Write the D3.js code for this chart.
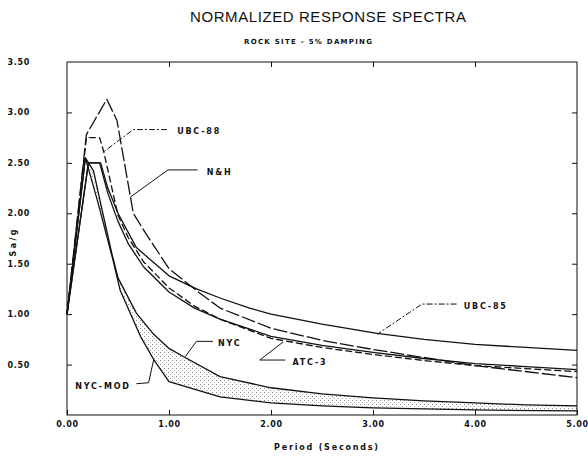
<!DOCTYPE html>
<html lang="en">
<head>
<meta charset="UTF-8">
<title>Normalized Response Spectra</title>
<style>
  body { margin: 0; background: #fff; }
  svg { display: block; }
  .tick text { font-family: "DejaVu Sans", sans-serif; font-weight: bold; font-size: 8px; letter-spacing: 0.7px; fill: #111; }
  .tick line { stroke: #111; }
  .lbl { font-family: "DejaVu Sans", sans-serif; font-weight: bold; font-size: 8px; letter-spacing: 1.8px; fill: #111; }
</style>
</head>
<body>
<div class="svg-target"></div>
<script src="https://d3js.org/d3.v7.min.js"></script>
<script>
  // values: period (s) and Sa/g
  const nhPeriod = [0, 0.19, 0.39, 0.49, 0.65, 0.76, 1.0, 1.3, 1.5, 2.0, 2.5, 3.0, 3.5, 4.0, 5.0];
  const nhSa = [1.0, 2.78, 3.13, 2.92, 2.0, 1.82, 1.45, 1.21, 1.06, 0.86, 0.74, 0.65, 0.57, 0.49, 0.37];

  const ubc88Period = [0, 0.19, 0.32, 0.36, 0.44, 0.5, 0.6, 0.75, 1.0, 1.25, 1.5, 2.0, 2.5, 3.0, 3.5, 4.0, 4.5, 5.0];
  const ubc88Sa = [1.0, 2.75, 2.75, 2.61, 2.25, 1.98, 1.76, 1.52, 1.26, 1.08, 0.95, 0.76, 0.67, 0.6, 0.54, 0.49, 0.46, 0.43];

  const atc3Period = [0, 0.21, 0.32, 0.4, 0.5, 0.6, 0.75, 1.0, 1.25, 1.5, 2.0, 2.5, 3.0, 3.5, 4.0, 4.5, 5.0];
  const atc3Sa = [1.0, 2.5, 2.5, 2.2, 1.92, 1.7, 1.47, 1.22, 1.06, 0.95, 0.78, 0.69, 0.62, 0.56, 0.51, 0.48, 0.45];

  const ubc85Period = [0, 0.21, 0.33, 0.4, 0.5, 0.68, 1.0, 1.27, 1.5, 1.79, 2.0, 2.5, 3.04, 3.5, 4.0, 4.5, 5.0];
  const ubc85Sa = [1.0, 2.5, 2.5, 2.25, 2.0, 1.66, 1.38, 1.25, 1.16, 1.06, 1.0, 0.9, 0.81, 0.75, 0.7, 0.67, 0.64];

  const nycPeriod = [0, 0.18, 0.26, 0.34, 0.44, 0.5, 0.68, 0.85, 1.0, 1.14, 1.5, 2.0, 2.5, 3.0, 3.5, 4.0, 4.5, 5.0];
  const nycSa = [1.0, 2.55, 2.42, 2.05, 1.6, 1.36, 1.01, 0.8, 0.66, 0.58, 0.38, 0.27, 0.21, 0.17, 0.14, 0.12, 0.1, 0.09];

  const nycModPeriod = [0, 0.18, 0.3, 0.45, 0.52, 0.72, 0.85, 1.0, 1.5, 2.0, 2.5, 3.0, 4.0, 5.0];
  const nycModSa = [1.0, 2.55, 2.12, 1.54, 1.24, 0.78, 0.55, 0.33, 0.18, 0.12, 0.09, 0.07, 0.05, 0.04];

  const xTicks = [0, 1, 2, 3, 4, 5];
  const yTicks = [0.5, 1, 1.5, 2, 2.5, 3, 3.5];

  const zip = (ts, vs) => ts.map((t, i) => ({ t: t, v: vs[i] }));

  const series = [
    { name: "N&H", pts: zip(nhPeriod, nhSa), dash: "14,3" },
    { name: "UBC-88", pts: zip(ubc88Period, ubc88Sa), dash: "7,3" },
    { name: "ATC-3", pts: zip(atc3Period, atc3Sa), dash: null },
    { name: "UBC-85", pts: zip(ubc85Period, ubc85Sa), dash: null },
    { name: "NYC", pts: zip(nycPeriod, nycSa), dash: null },
    { name: "NYC-MOD", pts: zip(nycModPeriod, nycModSa), dash: null }
  ];

  // label text + leader line, in data units
  const labels = [
    { text: "UBC-88", at: [1.08, 2.81], leader: [[0.98, 2.83], [0.65, 2.83], [0.36, 2.61]], dash: "6,2,2,2" },
    { text: "N&H", at: [1.37, 2.41], leader: [[1.28, 2.43], [0.99, 2.43], [0.62, 2.16]], dash: null },
    { text: "UBC-85", at: [3.89, 1.08], leader: [[3.82, 1.10], [3.48, 1.10], [3.04, 0.80]], dash: "6,2,2,2" },
    { text: "ATC-3", at: [2.21, 0.525], leader: [[2.14, 0.545], [1.89, 0.545], [2.12, 0.725]], dash: null },
    { text: "NYC", at: [1.48, 0.71], leader: [[1.43, 0.73], [1.27, 0.73], [1.16, 0.58]], dash: null },
    { text: "NYC-MOD", at: [0.08, 0.29], leader: [[0.68, 0.31], [0.8, 0.32], [0.85, 0.55]], dash: null }
  ];

  const w = 588;
  const h = 457;
  const padLeft = 67, padRight = 577, padTop = 62, padBottom = 415;

  const svg = d3.select("div.svg-target")
    .append("svg")
    .attr("width", w)
    .attr("height", h);

  const xScale = d3.scaleLinear().domain([0, 5]).range([padLeft, padRight]);
  const yScale = d3.scaleLinear().domain([0, 3.5]).range([padBottom, padTop]);

  // stipple for the band between NYC and NYC-MOD
  const pat = svg.append("defs").append("pattern")
    .attr("id", "stipple")
    .attr("patternUnits", "userSpaceOnUse")
    .attr("width", 4)
    .attr("height", 4);
  pat.append("rect").attr("x", 0).attr("y", 0).attr("width", 1).attr("height", 1).attr("fill", "#888");
  pat.append("rect").attr("x", 2).attr("y", 2).attr("width", 1).attr("height", 1).attr("fill", "#aaa");

  const line = d3.line()
    .x((d) => xScale(d.t))
    .y((d) => yScale(d.v));

  const nyc = series.find((s) => s.name == "NYC").pts;
  const nycMod = series.find((s) => s.name == "NYC-MOD").pts;
  svg.append("path")
    .attr("d", line(nyc.concat(nycMod.slice().reverse())) + "Z")
    .attr("fill", "url(#stipple)")
    .attr("stroke", "none");

  // axes, ticks inward on all four sides
  svg.append("g")
    .attr("transform", "translate(0," + padBottom + ")")
    .call(d3.axisBottom(xScale).tickValues(xTicks).tickSize(-5).tickSizeOuter(0).tickPadding(6).tickFormat(d3.format(".2f")))
    .call((g) => g.select(".domain").remove());
  svg.append("g")
    .attr("transform", "translate(0," + padTop + ")")
    .call(d3.axisTop(xScale).tickValues(xTicks.slice(1, 5)).tickSize(-5).tickSizeOuter(0).tickFormat(""))
    .call((g) => g.select(".domain").remove());
  svg.append("g")
    .attr("transform", "translate(" + padLeft + ",0)")
    .call(d3.axisLeft(yScale).tickValues(yTicks.slice(0, 6)).tickSize(-5).tickSizeOuter(0).tickPadding(37).tickFormat(d3.format(".2f")))
    .call((g) => g.select(".domain").remove());
  // 3.50 label sits at the top corner
  svg.append("text")
    .attr("class", "lbl")
    .style("letter-spacing", "0.7px")
    .attr("text-anchor", "end")
    .attr("x", padLeft - 37)
    .attr("y", yScale(3.5))
    .attr("dy", "0.32em")
    .text("3.50");
  svg.append("g")
    .attr("transform", "translate(" + padRight + ",0)")
    .call(d3.axisRight(yScale).tickValues(yTicks.slice(0, 6)).tickSize(-5).tickSizeOuter(0).tickFormat(""))
    .call((g) => g.select(".domain").remove());

  svg.append("rect")
    .attr("x", padLeft)
    .attr("y", padTop)
    .attr("width", padRight - padLeft)
    .attr("height", padBottom - padTop)
    .attr("fill", "none")
    .attr("stroke", "#111")
    .attr("stroke-width", 1);

  // spectra
  svg.selectAll("path.curve")
    .data(series)
    .enter()
    .append("path")
    .attr("class", "curve")
    .attr("d", (d) => line(d.pts))
    .attr("fill", "none")
    .attr("stroke", "#111")
    .attr("stroke-width", 1.3)
    .attr("stroke-linejoin", "round")
    .attr("stroke-dasharray", (d) => d.dash);

  // leaders and labels
  const leaderLine = d3.line()
    .x((d) => xScale(d[0]))
    .y((d) => yScale(d[1]));
  svg.selectAll("path.leader")
    .data(labels)
    .enter()
    .append("path")
    .attr("class", "leader")
    .attr("d", (d) => leaderLine(d.leader))
    .attr("fill", "none")
    .attr("stroke", "#111")
    .attr("stroke-width", 1)
    .attr("stroke-dasharray", (d) => d.dash);
  svg.selectAll("text.name")
    .data(labels)
    .enter()
    .append("text")
    .attr("class", "lbl name")
    .attr("x", (d) => xScale(d.at[0]))
    .attr("y", (d) => yScale(d.at[1]))
    .attr("dy", "0.35em")
    .text((d) => d.text);

  // titles
  svg.append("text")
    .attr("x", 328)
    .attr("y", 22)
    .attr("text-anchor", "middle")
    .attr("textLength", 276)
    .attr("lengthAdjust", "spacing")
    .style("font-family", "'Liberation Sans', sans-serif")
    .style("font-size", "15px")
    .style("fill", "#111")
    .text("NORMALIZED RESPONSE SPECTRA");
  svg.append("text")
    .attr("x", 308)
    .attr("y", 44)
    .attr("text-anchor", "middle")
    .attr("textLength", 128)
    .attr("lengthAdjust", "spacing")
    .style("font-family", "'DejaVu Sans', sans-serif")
    .style("font-weight", "bold")
    .style("font-size", "7px")
    .style("fill", "#111")
    .text("ROCK SITE - 5% DAMPING");
  svg.append("text")
    .attr("x", 326)
    .attr("y", 450)
    .attr("text-anchor", "middle")
    .attr("textLength", 104)
    .attr("lengthAdjust", "spacing")
    .style("font-family", "'DejaVu Sans', sans-serif")
    .style("font-weight", "bold")
    .style("font-size", "8px")
    .style("fill", "#111")
    .text("Period (Seconds)");
  svg.append("text")
    .attr("transform", "translate(16,243) rotate(-90)")
    .attr("text-anchor", "middle")
    .attr("textLength", 27)
    .attr("lengthAdjust", "spacing")
    .style("font-family", "'DejaVu Sans', sans-serif")
    .style("font-weight", "bold")
    .style("font-size", "8px")
    .style("fill", "#111")
    .text("Sa/g");
</script>
</body>
</html>
